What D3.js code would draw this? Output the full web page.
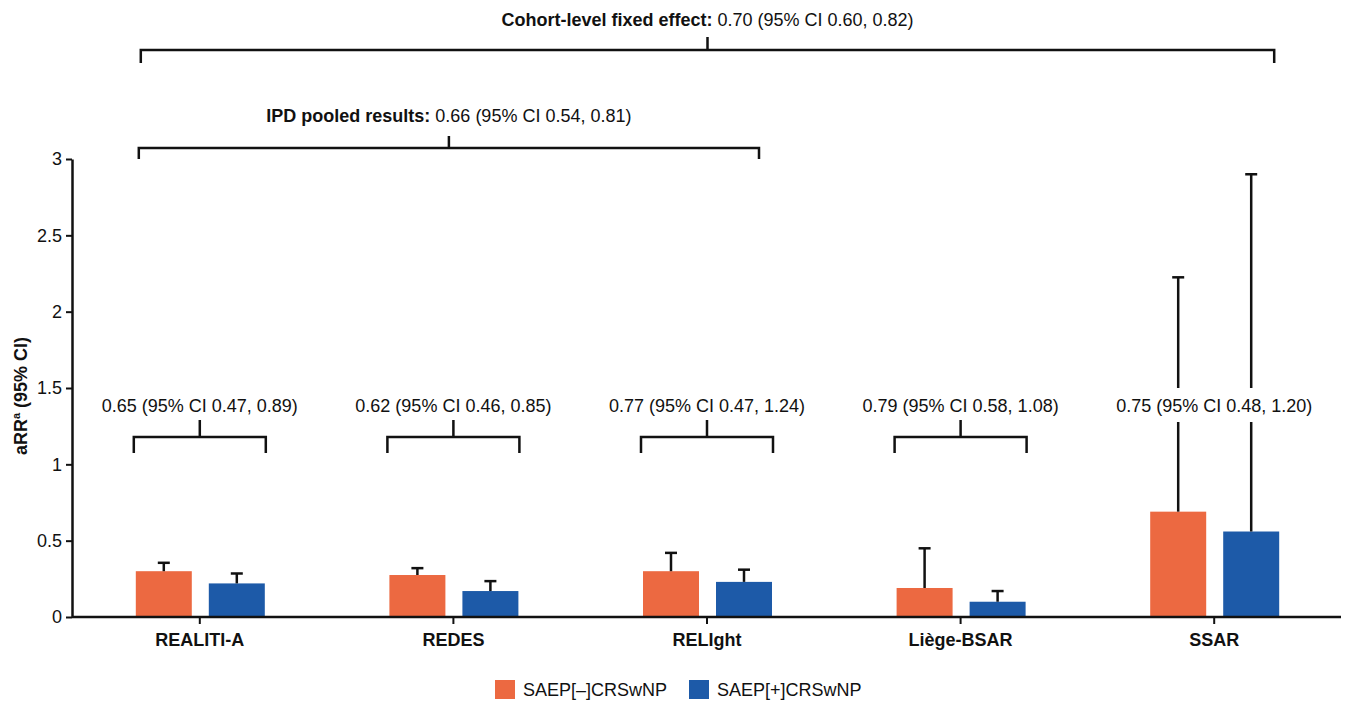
<!DOCTYPE html>
<html>
<head>
<meta charset="utf-8">
<script src="https://cdn.jsdelivr.net/npm/d3@7"></script>
<style>
  html, body { margin: 0; padding: 0; background: #fff; }
  svg { display: block; font-family: "Liberation Sans", Arial, Helvetica, sans-serif; }
</style>
</head>
<body>
<svg id="chart" width="1347" height="705"></svg>
<script>
// ---- Data ----
const categories = ["REALITI-A", "REDES", "RELIght", "Liège-BSAR", "SSAR"];
const seriesNames = ["SAEP[–]CRSwNP", "SAEP[+]CRSwNP"];
const seriesColors = ["#EC6941", "#1D5AA8"];
const saepNegValues = [0.30, 0.275, 0.30, 0.19, 0.69];
const saepNegUpper  = [0.355, 0.32, 0.42, 0.45, 2.225];
const saepPosValues = [0.22, 0.17, 0.23, 0.10, 0.56];
const saepPosUpper  = [0.285, 0.235, 0.31, 0.17, 2.90];
const groupLabels = [
  "0.65 (95% CI 0.47, 0.89)",
  "0.62 (95% CI 0.46, 0.85)",
  "0.77 (95% CI 0.47, 1.24)",
  "0.79 (95% CI 0.58, 1.08)",
  "0.75 (95% CI 0.48, 1.20)"
];
const groupHasBracket = [true, true, true, true, false];
const yTicks = [0, 0.5, 1, 1.5, 2, 2.5, 3];
const yTickLabels = ["0", "0.5", "1", "1.5", "2", "2.5", "3"];
const pooledLabels = [
  { bold: "Cohort-level fixed effect:", rest: " 0.70 (95% CI 0.60, 0.82)", from: "REALITI-A", to: "SSAR" },
  { bold: "IPD pooled results:", rest: " 0.66 (95% CI 0.54, 0.81)", from: "REALITI-A", to: "RELIght" }
];

// ---- Layout ----
const svg = d3.select("#chart");
const plotLeft = 72, plotRight = 1341, plotTop = 159, plotBottom = 617;
const FS = 18;

const x = d3.scaleBand().domain(categories).range([plotLeft + 1, plotRight]);
const xInner = d3.scaleBand().domain([0, 1]).range([-64, 65]).paddingInner(0.233);
const y = d3.scaleLinear().domain([0, 3]).range([plotBottom, plotTop]);
const cx = c => x(c) + x.bandwidth() / 2;

const rows = categories.map((c, i) => ({
  cat: c, i,
  vals: [
    { s: 0, v: saepNegValues[i], u: saepNegUpper[i] },
    { s: 1, v: saepPosValues[i], u: saepPosUpper[i] }
  ]
}));

// ---- Bars ----
const g = svg.append("g");
const grp = g.selectAll("g.cat").data(rows).join("g")
  .attr("class", "cat")
  .attr("transform", d => `translate(${cx(d.cat)},0)`);

grp.selectAll("rect.bar").data(d => d.vals).join("rect")
  .attr("class", "bar")
  .attr("x", d => xInner(d.s))
  .attr("width", xInner.bandwidth())
  .attr("y", d => y(d.v))
  .attr("height", d => y(0) - y(d.v))
  .attr("fill", d => seriesColors[d.s]);

// Error bars (upper only)
grp.selectAll("line.err").data(d => d.vals).join("line")
  .attr("class", "err")
  .attr("x1", d => xInner(d.s) + xInner.bandwidth() / 2)
  .attr("x2", d => xInner(d.s) + xInner.bandwidth() / 2)
  .attr("y1", d => y(d.v))
  .attr("y2", d => y(d.u))
  .attr("stroke", "#111").attr("stroke-width", 2.5);
grp.selectAll("line.cap").data(d => d.vals).join("line")
  .attr("class", "cap")
  .attr("x1", d => xInner(d.s) + xInner.bandwidth() / 2 - 6)
  .attr("x2", d => xInner(d.s) + xInner.bandwidth() / 2 + 6)
  .attr("y1", d => y(d.u))
  .attr("y2", d => y(d.u))
  .attr("stroke", "#111").attr("stroke-width", 2.5);

// ---- Group labels & brackets ----
const bracketTop = 437, bracketEnd = 453, bracketTick = 420, labelY = 412;
rows.forEach(d => {
  const c = cx(d.cat);
  const gg = svg.append("g");
  const t = gg.append("text")
    .attr("x", c).attr("y", labelY)
    .attr("text-anchor", "middle")
    .attr("font-size", FS).attr("fill", "#111")
    .text(groupLabels[d.i]);
  if (!groupHasBracket[d.i]) {
    const bb = t.node().getBBox();
    gg.insert("rect", "text")
      .attr("x", bb.x - 2).attr("y", 388)
      .attr("width", bb.width + 4).attr("height", 34)
      .attr("fill", "#fff");
  } else {
    const l = c + xInner(0) - 2, r = c + xInner(1) + xInner.bandwidth() + 1;
    gg.append("path")
      .attr("d", `M${l},${bracketEnd}V${bracketTop}H${r}V${bracketEnd}M${c},${bracketTop}V${bracketTick}`)
      .attr("fill", "none").attr("stroke", "#111").attr("stroke-width", 2.5);
  }
});

// ---- Pooled brackets ----
const pooledLayout = [
  { textY: 26, barY: 50, endY: 63, tickY: 37, lOff: -59, rOff: 60 },
  { textY: 122, barY: 148, endY: 159, tickY: 136, lOff: -61, rOff: 52 }
];
pooledLabels.forEach((p, k) => {
  const L = pooledLayout[k];
  const l = cx(p.from) + L.lOff, r = cx(p.to) + L.rOff, m = (l + r) / 2;
  svg.append("path")
    .attr("d", `M${l},${L.endY}V${L.barY}H${r}V${L.endY}M${m},${L.barY}V${L.tickY}`)
    .attr("fill", "none").attr("stroke", "#111").attr("stroke-width", 2.5);
  const t = svg.append("text")
    .attr("x", m).attr("y", L.textY)
    .attr("text-anchor", "middle")
    .attr("font-size", FS).attr("fill", "#111");
  t.append("tspan").attr("font-weight", "bold").text(p.bold);
  t.append("tspan").text(p.rest);
});

// ---- Axes ----
const yAxis = d3.axisLeft(y).tickValues(yTicks)
  .tickFormat((d, i) => yTickLabels[i]).tickSize(6).tickSizeOuter(0);
const ya = svg.append("g").attr("transform", `translate(${plotLeft},0)`).call(yAxis);
ya.select(".domain").attr("stroke", "#111").attr("stroke-width", 2.5);
ya.selectAll(".tick line").attr("stroke", "#111").attr("stroke-width", 2);
ya.selectAll(".tick text").attr("font-size", FS).attr("fill", "#111")
  .attr("font-family", "Liberation Sans, Arial, sans-serif").attr("x", -10);

const xAxis = d3.axisBottom(x).tickSize(7).tickSizeOuter(0);
const xa = svg.append("g").attr("transform", `translate(0,${plotBottom})`).call(xAxis);
xa.select(".domain").attr("d", `M${plotLeft},0H${plotRight}`).attr("stroke", "#111").attr("stroke-width", 2.5);
xa.selectAll(".tick line").attr("stroke", "#111").attr("stroke-width", 2);
xa.selectAll(".tick text").attr("font-size", FS).attr("font-weight", "bold").attr("fill", "#111")
  .attr("font-family", "Liberation Sans, Arial, sans-serif").attr("y", 16);

// Y axis title
const yt = svg.append("text")
  .attr("transform", `translate(27,${(plotTop + plotBottom) / 2 + 8}) rotate(-90)`)
  .attr("text-anchor", "middle")
  .attr("font-size", FS).attr("font-weight", "bold").attr("fill", "#111");
yt.append("tspan").text("aRR");
yt.append("tspan").attr("font-size", 11).attr("dy", -7).text("a");
yt.append("tspan").attr("dy", 7).text(" (95% CI)");

// ---- Legend ----
const legendItems = seriesNames.map((n, i) => ({ n, i }));
const legendX = [495, 689];
const lg = svg.selectAll("g.leg").data(legendItems).join("g")
  .attr("class", "leg")
  .attr("transform", d => `translate(${legendX[d.i]},680)`);
lg.append("rect").attr("width", 20).attr("height", 19).attr("fill", d => seriesColors[d.i]);
lg.append("text").attr("x", 28).attr("y", 16).attr("font-size", FS).attr("fill", "#111").text(d => d.n);
</script>
</body>
</html>
